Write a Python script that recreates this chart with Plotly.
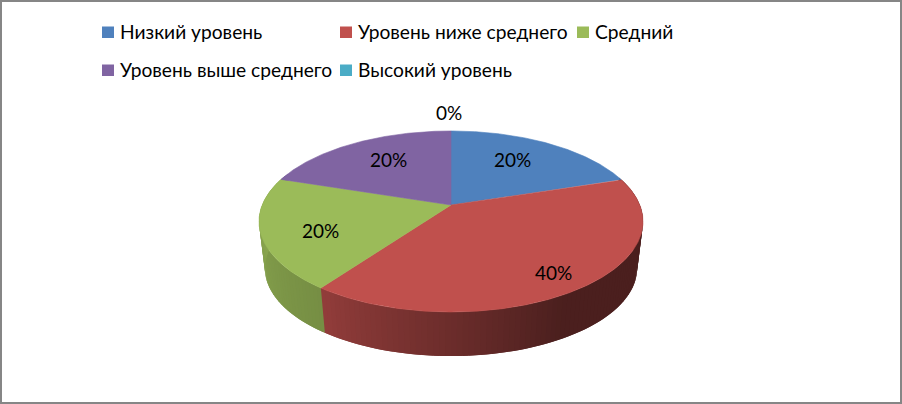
import numpy as np
import plotly.graph_objects as go

categories = ['Низкий уровень', 'Уровень ниже среднего', 'Средний',
              'Уровень выше среднего', 'Высокий уровень']
values = [20, 40, 20, 20, 0]
colors = ['#4f81bd', '#c0504d', '#9bbb59', '#8064a2', '#4bacc6']

# Page geometry (px) ----------------------------------------------------------
(W, H) = (902, 404)
FONT = 'Lato, Carlito, "Open Sans", sans-serif'
FSIZE = 19
LEG_SIZE = 19.2
KP = 0.182                       # perspective strength of the tilted disc
TOP = dict(cx=451, cy=205, a=188.8, b=87.5)
BOT = dict(cx=451, cy=252.4, a=183, b=84.8)
LABEL_POS = [(512, 159), (553, 272), (320, 230), (388, 159), (449, 112)]
LEGEND_POS = [(102, 32), (340, 32), (577, 32), (102, 70), (340, 70)]
# Wall shading against clockwise angle from 12 o'clock
SHADE_ANG = [150, 180, 216, 288]
SHADE_VAL = [0.39, 0.56, 0.76, 0.92]
STEP = 1.5


def project(theta, disc, r=1.0):
    rad = np.radians(theta)
    (u, v) = (r*np.sin(rad), -r*np.cos(rad))
    den = 1-KP*v
    return (disc['cx']+disc['a']*u/den, disc['cy']+disc['b']*v/den)


def shade(hexColor, theta):
    f = np.interp(theta, SHADE_ANG, SHADE_VAL)
    rgb = [int(hexColor[i:i+2], 16)*f for i in (1, 3, 5)]
    return 'rgb({:.0f},{:.0f},{:.0f})'.format(*rgb)


def poly(xs, ys, color, lw=0.6):
    return go.Scatter(
        x=xs, y=ys, mode='lines', fill='toself', fillcolor=color,
        line=dict(color=color, width=lw), hoverinfo='skip', showlegend=False
    )


bounds = np.cumsum([0]+values)*360/sum(values)
fig = go.Figure()
# Walls: each strip runs under the next one so no seams show ------------------
for (ix, color) in enumerate(colors):
    (start, end) = (bounds[ix], bounds[ix+1])
    if end <= start:
        continue
    for t0 in np.arange(start, end, STEP):
        if t0 < 70 or t0 > 290:
            continue
        t1 = t0+2*STEP
        (x0, y0) = project(t0, TOP)
        (x1, y1) = project(t1, TOP)
        (x2, y2) = project(t1, BOT)
        (x3, y3) = project(t0, BOT)
        fig.add_trace(poly(
            [x0, x1, x2, x3, x0], [y0, y1, y2, y3, y0],
            shade(color, t0+STEP/2), lw=0
        ))
# Top of the pie --------------------------------------------------------------
for (ix, color) in enumerate(colors):
    (start, end) = (bounds[ix], bounds[ix+1])
    if end <= start:
        continue
    thetas = np.linspace(start, end, int(end-start)*2+1)
    (xs, ys) = project(thetas, TOP)
    (cx, cy) = project(0.0, TOP, r=0.0)
    fig.add_trace(poly(
        [cx]+list(xs)+[cx], [cy]+list(ys)+[cy], color
    ))
# Percent labels --------------------------------------------------------------
for (val, (x, y)) in zip(values, LABEL_POS):
    fig.add_annotation(
        x=x, y=y, text='{}%'.format(val), showarrow=False,
        xanchor='center', yanchor='middle',
        font=dict(family=FONT, size=FSIZE, color='#000000')
    )
# Legend ----------------------------------------------------------------------
for (name, color, (x, y)) in zip(categories, colors, LEGEND_POS):
    fig.add_shape(
        type='rect', x0=x, x1=x+12, y0=y-5.5, y1=y+6,
        fillcolor=color, line=dict(width=0)
    )
    fig.add_annotation(
        x=x+16, y=y-1, text=name, showarrow=False,
        xanchor='left', yanchor='middle',
        font=dict(family=FONT, size=LEG_SIZE, color='#000000')
    )
# Frame -----------------------------------------------------------------------
fig.add_shape(
    type='rect', x0=1, x1=W-1, y0=1, y1=H-1,
    fillcolor='rgba(0,0,0,0)', line=dict(color='#868686', width=2)
)
fig.update_xaxes(visible=False, range=[0, W], fixedrange=True)
fig.update_yaxes(visible=False, range=[H, 0], fixedrange=True)
fig.update_layout(
    width=W, height=H, margin=dict(l=0, r=0, t=0, b=0),
    paper_bgcolor='#ffffff', plot_bgcolor='#ffffff', showlegend=False
)
fig.write_html(
    'out.html', config=dict(displayModeBar=False),
    post_script="document.body.style.margin='0';"
)
